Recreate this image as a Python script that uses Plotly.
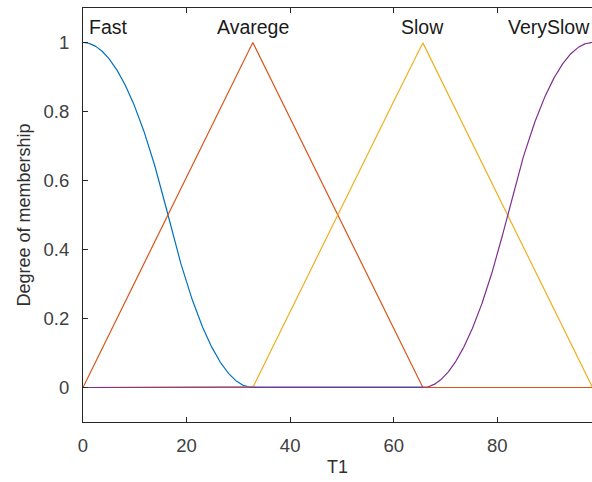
import numpy as np
import plotly.graph_objects as go

# Membership functions of input variable T1
var_name = "T1"
var_range = [0, 98.4]
mf_names = ["Fast", "Avarege", "Slow", "VerySlow"]
mf_types = ["zmf", "trimf", "trimf", "smf"]
mf_params = [[0, 32.8], [0, 32.8, 65.6], [32.8, 65.6, 98.4], [65.6, 98.4]]
mf_colors = ["#0072BD", "#D95319", "#EDB120", "#7E2F8E"]

x_ticks = [0, 20, 40, 60, 80]
y_ticks = [0, 0.2, 0.4, 0.6, 0.8, 1]


def smf(x, a, b):
    m = (a + b) / 2
    y = np.zeros_like(x)
    y[x >= b] = 1
    s1 = (x > a) & (x <= m)
    y[s1] = 2 * ((x[s1] - a) / (b - a)) ** 2
    s2 = (x > m) & (x < b)
    y[s2] = 1 - 2 * ((x[s2] - b) / (b - a)) ** 2
    return y


def zmf(x, a, b):
    return 1 - smf(x, a, b)


def trimf(x, a, b, c):
    return np.maximum(np.minimum((x - a) / (b - a), (c - x) / (c - b)), 0)


funcs = {"smf": smf, "zmf": zmf, "trimf": trimf}
x = np.linspace(var_range[0], var_range[1], 1001)

fig = go.Figure()
for name, kind, p, col in zip(mf_names, mf_types, mf_params, mf_colors):
    y = funcs[kind](x, *p)
    fig.add_trace(go.Scatter(x=x, y=y, mode="lines", name=name,
                             line=dict(color=col, width=1.2), showlegend=False))

x_view = [0, 98.3]

# Labels above each function's peak (edge labels kept inside the axes)
label_font = dict(family="Liberation Sans, Arial, sans-serif", size=19.5, color="#1a1a1a")
label_x = [0, 32.8, 65.6, x_view[1]]
anchors = ["left", "center", "center", "right"]
shifts = [4, 0, 0, 0]
for name, px, anc, sh in zip(mf_names, label_x, anchors, shifts):
    fig.add_annotation(x=px, y=1.046, text=name, showarrow=False, xanchor=anc,
                       yanchor="middle", xshift=sh, font=label_font)

tick_font = dict(family="Liberation Sans, Arial, sans-serif", size=18.5, color="#404040")
title_font = dict(family="Liberation Sans, Arial, sans-serif", size=18, color="#303030")
fig.update_layout(
    width=592, height=482,
    margin=dict(l=83, r=0, t=8, b=60),
    paper_bgcolor="white", plot_bgcolor="white",
    xaxis=dict(range=x_view, tickvals=x_ticks, ticks="inside", ticklen=5,
               tickcolor="#262626", showline=True, linecolor="#262626", linewidth=1,
               mirror="ticks", showgrid=False, zeroline=False, tickfont=tick_font,
               ticklabelstandoff=7,
               title=dict(text=var_name, standoff=5, font=title_font)),
    yaxis=dict(range=[-0.1, 1.1], tickvals=y_ticks, ticks="inside", ticklen=5,
               tickcolor="#262626", showline=True, linecolor="#262626", linewidth=1,
               showgrid=False, zeroline=False, tickfont=tick_font,
               ticklabelstandoff=9,
               title=dict(text="Degree of membership", standoff=8, font=title_font)),
)

fig.write_html("out.html")
